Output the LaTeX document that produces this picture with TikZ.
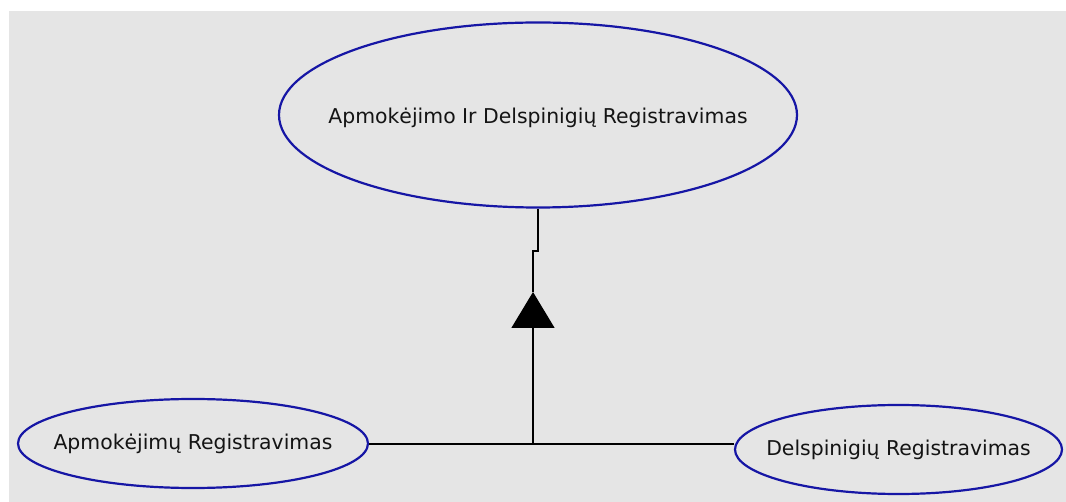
\documentclass[tikz,border=0pt]{standalone}
\usepackage{fontspec}
\setmainfont{DejaVu Sans}
\usetikzlibrary{positioning,shapes.geometric,arrows.meta}
\definecolor{ucblue}{RGB}{22,22,165}
\definecolor{canvas}{RGB}{229,229,229}
\begin{document}
\begin{tikzpicture}[x=1pt,y=-1pt,
						usecase/.style={ellipse,draw=ucblue,line width=2.2pt,inner sep=0pt},
						caption/.style={font=\fontsize{20.4}{24}\selectfont,text=black!92},
						link/.style={line width=1.6pt,black}]
		\useasboundingbox (0,0) rectangle (1066,502);
		\fill[white] (0,0) rectangle (1066,502);
		\fill[canvas] (9,11) rectangle (1066,502);

		\node[usecase,minimum width=518pt,minimum height=185pt,label={[caption,yshift=-3pt]center:Apmokėjimo Ir Delspinigių Registravimas}]	(0)	at (538,115)	{};
		\node[usecase,minimum width=350pt,minimum height=89pt,label={[caption]center:Apmokėjimų Registravimas}]	(1)	at (193,443.5)	{};
		\node[usecase,minimum width=327pt,minimum height=89pt,label={[caption]center:Delspinigių Registravimas}]	(2)	at (898.5,449.5)	{};

		\coordinate (j)		at (533,444);
		\coordinate (tip)	at (533,292);
		\coordinate (bend)	at (533,251);

		\draw[link] (1.east |- j) -- (2.west |- j);
		\draw[link,-{Triangle[width=43pt,length=36pt]}] (j) -- (tip);
		\draw[link] (tip) -- (bend) -| (0.south);
	\end{tikzpicture}
\end{document}
